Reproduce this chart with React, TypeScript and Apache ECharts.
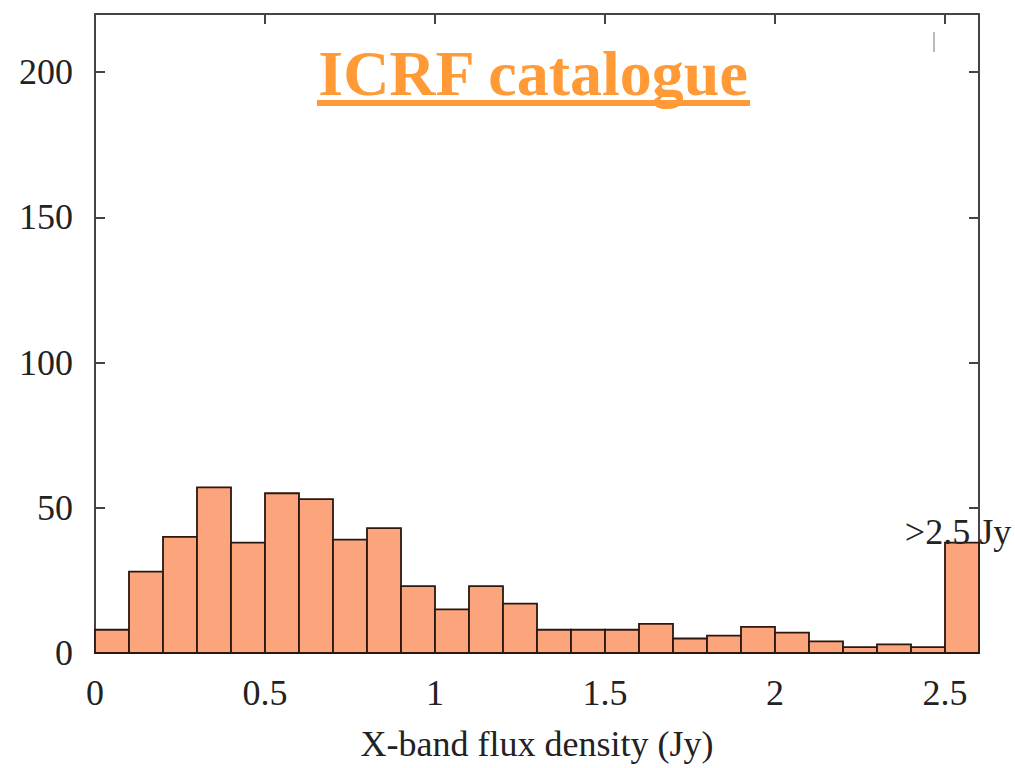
import React, { useEffect, useRef } from "react";
import * as echarts from "echarts";

const binStarts = [0, 0.1, 0.2, 0.3, 0.4, 0.5, 0.6, 0.7, 0.8, 0.9, 1.0, 1.1, 1.2, 1.3, 1.4, 1.5, 1.6, 1.7, 1.8, 1.9, 2.0, 2.1, 2.2, 2.3, 2.4, 2.5];
const binWidth = 0.1;
const counts = [8, 28, 40, 57, 38, 55, 53, 39, 43, 23, 15, 23, 17, 8, 8, 8, 10, 5, 6, 9, 7, 4, 2, 3, 2, 38];
const barLabels = ["", "", "", "", "", "", "", "", "", "", "", "", "", "", "", "", "", "", "", "", "", "", "", "", "", ">2.5 Jy"];
const xTicks = [0, 0.5, 1, 1.5, 2, 2.5];
const yTicks = [0, 50, 100, 150, 200];
const title = "ICRF catalogue";
const xName = "X-band flux density (Jy)";

const SERIF = "'Liberation Serif', 'DejaVu Serif', serif";

export default function App() {
  const ref = useRef<HTMLDivElement>(null);
  useEffect(() => {
    if (!ref.current) return;
    const chart = echarts.init(ref.current, null, { renderer: "svg" });
    const data = binStarts.map((s, i) => [s, s + binWidth, counts[i]]);
    const axisLine = { show: true, onZero: false, lineStyle: { color: "#444", width: 2 } };
    const tick = { show: true, inside: true, length: 10, lineStyle: { color: "#444", width: 2 } };
    const xFmt = (v: number) => (xTicks.some((t) => Math.abs(t - v) < 1e-9) ? String(v) : "");
    const yFmt = (v: number) => (yTicks.includes(v) ? String(v) : "");
    chart.setOption({
      animation: false,
      backgroundColor: "#fff",
      grid: { left: 95, right: 36, top: 14, bottom: 115, containLabel: false, outerBoundsMode: "none" },
      xAxis: [
        {
          type: "value",
          min: 0,
          max: 2.6,
          interval: 0.5,
          position: "bottom",
          axisLine,
          axisTick: tick,
          axisLabel: { formatter: xFmt, color: "#222", fontFamily: SERIF, fontSize: 36, margin: 22 },
          splitLine: { show: false },
          name: xName,
          nameLocation: "middle",
          nameGap: 73,
          nameTextStyle: { color: "#222", fontFamily: SERIF, fontSize: 36 },
        },
        {
          type: "value",
          min: 0,
          max: 2.6,
          interval: 0.5,
          position: "top",
          axisLine,
          axisTick: tick,
          axisLabel: { show: false },
          splitLine: { show: false },
        },
      ],
      yAxis: [
        {
          type: "value",
          min: 0,
          max: 220,
          interval: 50,
          position: "left",
          axisLine,
          axisTick: tick,
          axisLabel: { formatter: yFmt, color: "#222", fontFamily: SERIF, fontSize: 36, margin: 22 },
          splitLine: { show: false },
        },
        {
          type: "value",
          min: 0,
          max: 220,
          interval: 50,
          position: "right",
          axisLine,
          axisTick: tick,
          axisLabel: { show: false },
          splitLine: { show: false },
        },
      ],
      series: [
        {
          type: "custom",
          xAxisIndex: 0,
          yAxisIndex: 0,
          data,
          encode: { x: [0, 1], y: 2 },
          renderItem: (params: any, api: any) => {
            const x0 = api.value(0);
            const x1 = api.value(1);
            const y = api.value(2);
            const lbl = barLabels[params.dataIndex];
            const p0 = api.coord([x0, y]);
            const p1 = api.coord([x1, 0]);
            const children: any[] = [
              {
                type: "rect",
                shape: { x: p0[0], y: p0[1], width: p1[0] - p0[0], height: p1[1] - p0[1] },
                style: { fill: "#FCA47C", stroke: "#2a1810", lineWidth: 1.8 },
              },
            ];
            if (lbl) {
              children.push({
                type: "text",
                x: (p0[0] + p1[0]) / 2 - 4,
                y: p0[1] - 11,
                style: {
                  text: lbl,
                  fill: "#222",
                  fontFamily: SERIF,
                  fontSize: 36,
                  align: "center",
                  verticalAlign: "middle",
                },
                z2: 10,
              });
            }
            return { type: "group", children };
          },
          z: 3,
        },
      ],
      graphic: [
        {
          type: "text",
          x: 533,
          y: 73,
          style: {
            text: title,
            fill: "#FF9A36",
            fontFamily: SERIF,
            fontWeight: "bold",
            fontSize: 64,
            align: "center",
            verticalAlign: "middle",
          },
        },
        {
          type: "rect",
          shape: { x: 317, y: 100, width: 433, height: 6 },
          style: { fill: "#FF9A36" },
        },
        {
          type: "line",
          shape: { x1: 934, y1: 32, x2: 934, y2: 52 },
          style: { stroke: "#777", lineWidth: 1 },
        },
      ],
    });
    return () => chart.dispose();
  }, []);
  return <div ref={ref} style={{ position: "fixed", left: 0, top: 0, width: 1015, height: 768 }} />;
}
